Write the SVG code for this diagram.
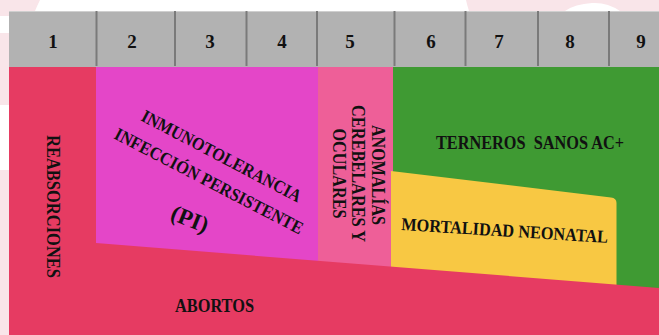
<svg xmlns="http://www.w3.org/2000/svg" width="659" height="335" viewBox="0 0 659 335">
<style>
.lbl{font-family:"Liberation Serif","Times New Roman",serif;font-weight:bold;fill:#111111;}
.num{font-family:"Liberation Serif","Times New Roman",serif;font-weight:bold;font-size:19px;fill:#111111;text-anchor:middle;}
.bg{fill:#F9E5E9;}
.div{stroke:#7a7a7a;stroke-width:2;}
</style>
<rect width="659" height="335" fill="#ffffff"/>
<g id="background">
<path class="bg" d="M0,0 H40 Q37,6 35,11 H0 Z"/>
<path class="bg" d="M466,0 H659 V11 H620 Q607,2 592,3 Q575,4 565,11 H469 Q467,5 466,0 Z"/>
<rect class="bg" x="0" y="11" width="9" height="5"/>
<rect class="bg" x="0" y="33" width="9" height="72"/>
<rect class="bg" x="0" y="170" width="9" height="165"/>
</g>
<g id="header">
<rect x="9" y="11" width="650" height="56" fill="#B2B2B2"/>
<line x1="9" y1="11.5" x2="659" y2="11.5" stroke="#cfcfcf" stroke-width="1"/>
<line class="div" x1="96.5" y1="11" x2="96.5" y2="66"/>
<line class="div" x1="175" y1="11" x2="175" y2="66"/>
<line class="div" x1="246.5" y1="11" x2="246.5" y2="66"/>
<line class="div" x1="317" y1="11" x2="317" y2="66"/>
<line class="div" x1="394.5" y1="11" x2="394.5" y2="66"/>
<line class="div" x1="465.5" y1="11" x2="465.5" y2="66"/>
<line class="div" x1="538" y1="11" x2="538" y2="66"/>
<line class="div" x1="609" y1="11" x2="609" y2="66"/>
<text class="num" x="53" y="48">1</text>
<text class="num" x="132" y="48">2</text>
<text class="num" x="210" y="48">3</text>
<text class="num" x="282" y="48">4</text>
<text class="num" x="350" y="48">5</text>
<text class="num" x="431" y="48">6</text>
<text class="num" x="499" y="48">7</text>
<text class="num" x="570" y="48">8</text>
<text class="num" x="641" y="48">9</text>
</g>
<g id="inmunotolerancia">
<rect x="96" y="67" width="222" height="200" fill="#E446C8"/>
<text class="lbl" font-size="18" transform="translate(140,120) rotate(27.7)" textLength="178" lengthAdjust="spacingAndGlyphs">INMUNOTOLERANCIA</text>
<text class="lbl" font-size="18" transform="translate(113,138) rotate(27.4)" textLength="210" lengthAdjust="spacingAndGlyphs">INFECCIÓN PERSISTENTE</text>
<text class="lbl" font-size="23" text-anchor="middle" transform="translate(187,226) rotate(22)">(PI)</text>
</g>
<g id="anomalias">
<rect x="318" y="67" width="75" height="210" fill="#EE5F98"/>
<g transform="rotate(90)">
<text class="lbl" font-size="18" x="175" y="-372" text-anchor="middle" textLength="100" lengthAdjust="spacingAndGlyphs">ANOMALÍAS</text>
<text class="lbl" font-size="18" x="173.5" y="-352" text-anchor="middle" textLength="137" lengthAdjust="spacingAndGlyphs">CEREBELARES Y</text>
<text class="lbl" font-size="18" x="173.5" y="-333" text-anchor="middle" textLength="90" lengthAdjust="spacingAndGlyphs">OCULARES</text>
</g>
</g>
<g id="terneros">
<rect x="393" y="67" width="266" height="225" fill="#3F9A33"/>
<text class="lbl" font-size="19" x="436" y="149" textLength="188" lengthAdjust="spacingAndGlyphs" style="white-space:pre">TERNEROS  SANOS AC+</text>
</g>
<g id="mortalidad">
<path d="M391,171 L611,197.5 Q616.5,198 616.5,203 L616.5,290 L391,290 Z" fill="#F8C843"/>
<text class="lbl" font-size="18" transform="translate(401,230) rotate(3.6)" textLength="207" lengthAdjust="spacingAndGlyphs">MORTALIDAD NEONATAL</text>
</g>
<g id="abortos">
<path d="M96,243 L659,288 L659,335 L96,335 Z" fill="#E63B62"/>
<text class="lbl" font-size="18" x="175" y="312" textLength="79" lengthAdjust="spacingAndGlyphs">ABORTOS</text>
</g>
<g id="reabsorciones">
<rect x="9" y="67" width="87" height="268" fill="#E63B62"/>
<text class="lbl" font-size="19" transform="rotate(90)" x="206.5" y="-47" text-anchor="middle" textLength="143" lengthAdjust="spacingAndGlyphs">REABSORCIONES</text>
</g>
<g id="connectors"></g>
</svg>
